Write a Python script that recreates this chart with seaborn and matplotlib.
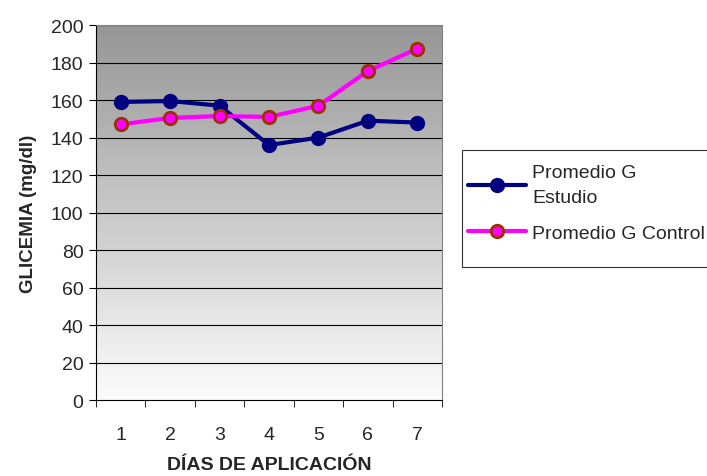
import numpy as np
import pandas as pd
import matplotlib
matplotlib.use("Agg")
import matplotlib.pyplot as plt
from matplotlib.patches import Rectangle
import seaborn as sns

dias = [1, 2, 3, 4, 5, 6, 7]
estudio = [159, 159.5, 157, 136, 140, 149, 148]
control = [147, 150.5, 151.5, 151, 157, 175.5, 187.5]
lbl_estudio = "Promedio G\nEstudio"
lbl_control = "Promedio G Control"

df_e = pd.DataFrame({"dia": dias, "valor": estudio})
df_c = pd.DataFrame({"dia": dias, "valor": control})

sns.set_style("white")
plt.rcParams["font.family"] = ["Liberation Sans", "DejaVu Sans"]

fig = plt.figure(figsize=(7.07, 4.77), dpi=100)
ax = fig.add_axes([0.1358, 0.1593, 0.4894, 0.786])

# gray-to-white gradient background
grad = np.linspace(0, 1, 256).reshape(-1, 1)
ax.imshow(grad, extent=[0, 1, 0, 1], transform=ax.transAxes, aspect="auto",
          cmap=matplotlib.colors.LinearSegmentedColormap.from_list(
              "g", ["#fcfcfc", "#969696"]),
          origin="lower", zorder=0)

for y in range(20, 201, 20):
    ax.axhline(y, color="black", lw=0.8, zorder=1)

sns.lineplot(data=df_e, x="dia", y="valor", color="#000080", lw=3,
             marker="o", markersize=13, markeredgecolor="#000080",
             markeredgewidth=2, label=lbl_estudio, ax=ax, zorder=3)
sns.lineplot(data=df_c, x="dia", y="valor", color="#ff00ff", lw=3,
             marker="o", markersize=13, markeredgecolor="#993300",
             markeredgewidth=2, label=lbl_control, ax=ax, zorder=4)

ax.set_xlim(0.5, 7.5)
ax.set_ylim(0, 200)
ax.set_yticks(range(0, 201, 20))
ax.set_xticks(dias)
ax.set_xticks(np.arange(0.5, 8, 1), minor=True)
ax.tick_params(axis="x", which="major", length=0, pad=19, labelsize=14)
ax.tick_params(axis="x", which="minor", length=5, direction="out",
               bottom=True, color="black")
ax.tick_params(axis="y", length=5, direction="out", left=True,
               labelsize=14, color="black", pad=4)

for s in ["top", "right"]:
    ax.spines[s].set_color("#808080")
ax.spines["left"].set_color("black")
ax.spines["bottom"].set_color("black")

ax.set_xlabel("DÍAS DE APLICACIÓN", fontsize=14, fontweight="bold", labelpad=9)
ax.set_ylabel("GLICEMIA (mg/dl)", fontsize=13.5, fontweight="bold", labelpad=10)

h, l = ax.get_legend_handles_labels()
ax.legend_.remove()
for hd in h:
    hd.set_markersize(9)
leg = fig.legend(h, l, loc="upper left", bbox_to_anchor=(468 / 707, 1 - 165 / 477),
                 frameon=False, fontsize=14, handlelength=3.0,
                 labelspacing=0.95, handletextpad=0.3, borderaxespad=0,
                 borderpad=0)
for t in leg.get_texts():
    t.set_linespacing(1.6)

# legend box, running off the right edge like the original
fig.patches.append(Rectangle((462 / 707, 1 - 268 / 477), 0.5, 117 / 477,
                             transform=fig.transFigure, fill=False,
                             edgecolor="#333333", lw=0.8))

fig.savefig("out.png", dpi=100)
